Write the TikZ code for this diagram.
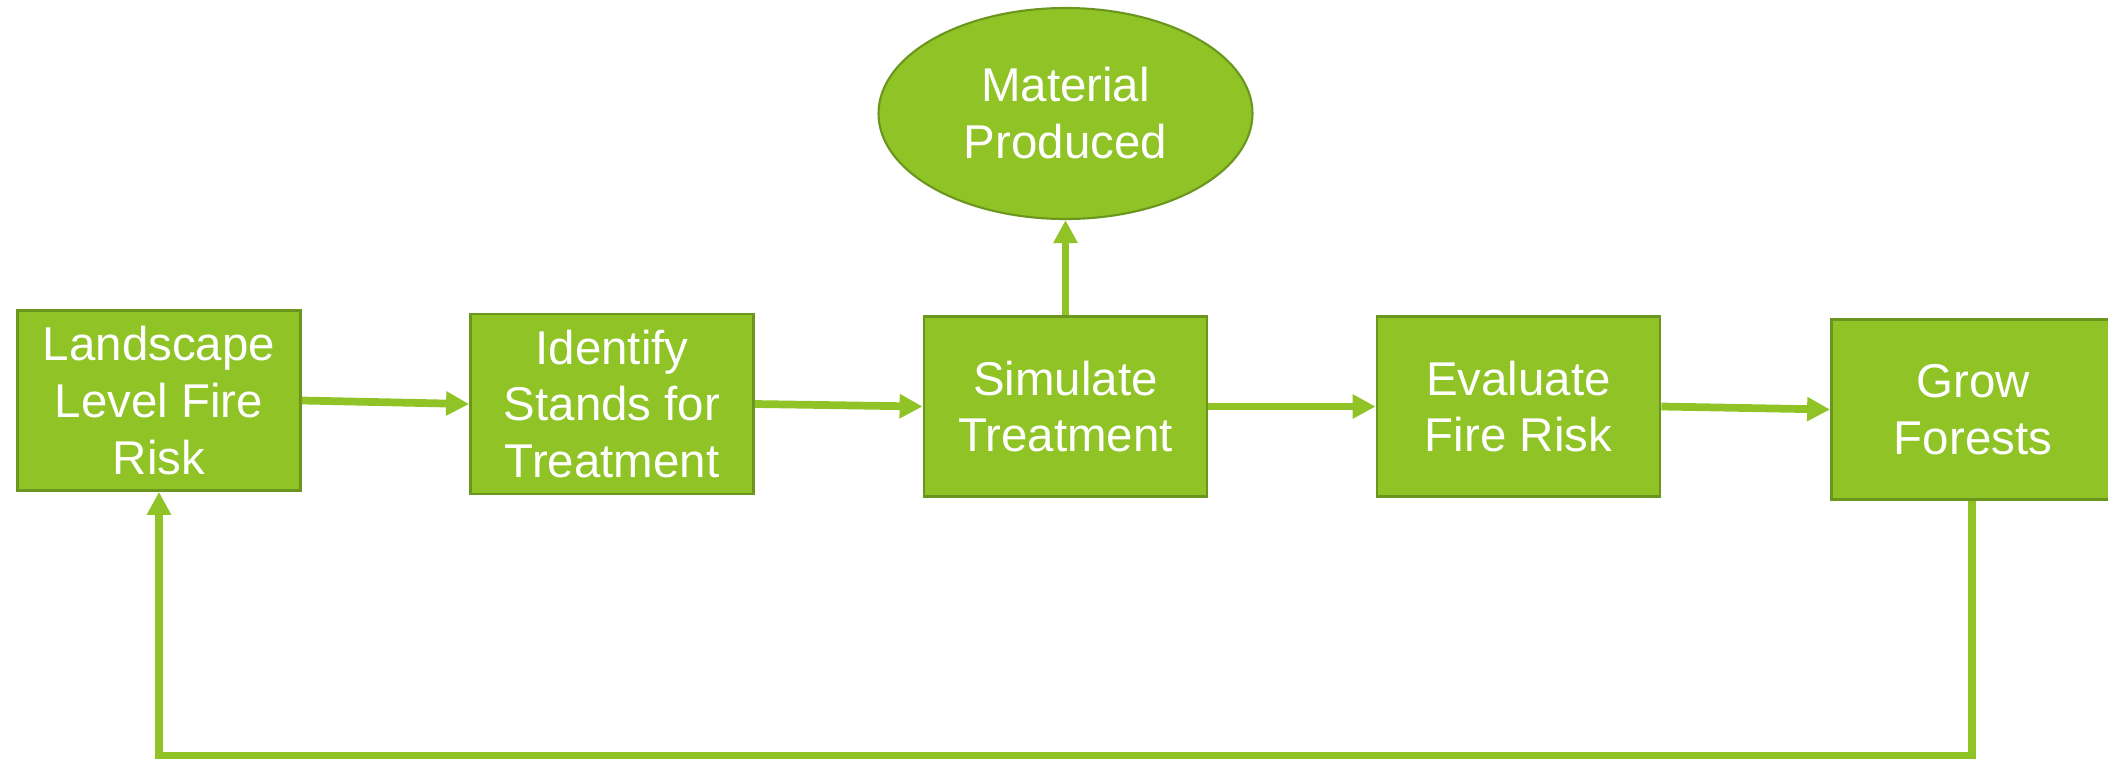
\documentclass[tikz,border=0pt]{standalone}
\usepackage{fontspec}
\setmainfont{Liberation Sans}
\usetikzlibrary{arrows.meta, shapes.geometric}
\definecolor{leaf}{RGB}{143,195,38}
\definecolor{leafdark}{RGB}{107,150,30}

\begin{document}
\begin{tikzpicture}
\tikzstyle{StepBox}=[
shape = rectangle,
minimum width = 2.83cm,
minimum height = 1.80cm,
align = center,
fill = leaf,
draw = leafdark,
line width = 0.8pt,
text = white,
font = \fontsize{13.5}{16.2}\selectfont]
\tikzstyle{OutBox}=[StepBox,
shape = ellipse,
minimum width = 3.74cm,
minimum height = 2.11cm,
line width = 0.6pt]
\tikzstyle{post}=[draw = leaf, line width = 2.2pt,
-{Triangle[length = 0.23cm, width = 0.23cm]}]
\useasboundingbox (0,0) rectangle (21.08,7.58);
\node[StepBox] (risk) at (1.59, 3.575) {Landscape\\Level Fire\\Risk};
\node[StepBox] (stands) at (6.12, 3.54) {Identify\\Stands for\\Treatment};
\node[StepBox] (simulate) at (10.655, 3.515) {Simulate\\Treatment};
\node[StepBox] (evaluate) at (15.185, 3.515) {Evaluate\\Fire Risk};
\node[StepBox] (grow) at (19.73, 3.485) {Grow\\Forests};
\node[OutBox] (material) at (10.655, 6.445) {Material\\Produced};
\coordinate (loopR) at (19.72, 0.02);
\coordinate (loopL) at (1.59, 0.02);
\draw[post] (risk.east) -- (stands.west);
\draw[post] (stands.east) -- (simulate.west);
\draw[post] (simulate.east) -- (evaluate.west);
\draw[post] (evaluate.east) -- (grow.west);
\draw[post] (simulate.north) -- (material.south);
\draw[post] (grow.south -| loopR) -- (loopR) -- (loopL) -- (risk.south);
\end{tikzpicture}
\end{document}
